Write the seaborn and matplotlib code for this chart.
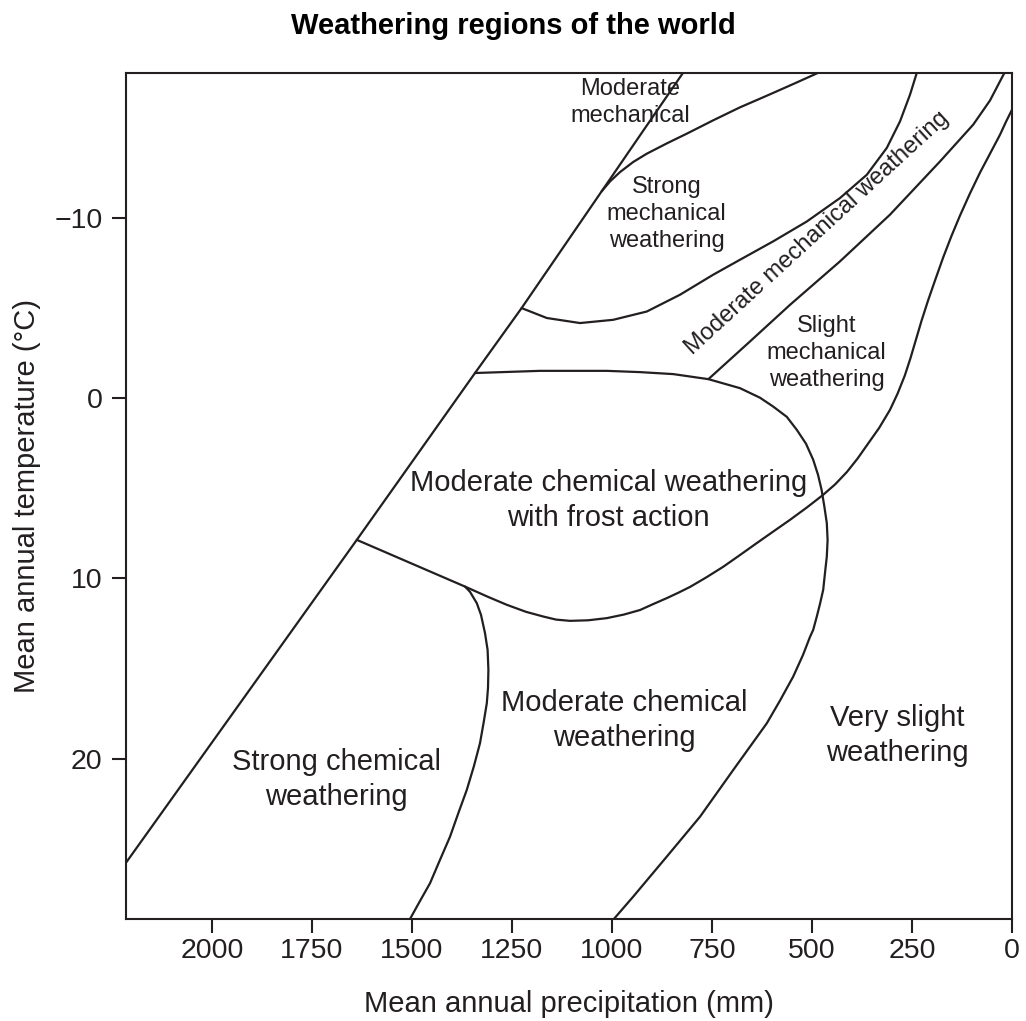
import matplotlib
matplotlib.use("Agg")
import matplotlib.pyplot as plt
import seaborn as sns
import pandas as pd

# ---------------- data: boundaries (precipitation in mm, temperature in °C) -------------
humid_limit_precip = [2215, 1638, 1342.5, 1226, 1026, 923, 820]
humid_limit_temp = [25.76, 7.86, -1.39, -4.99, -11.46, -14.79, -18.11]

strong_mech_top_precip = [1026, 1005, 980, 947, 913, 863, 813, 747, 680, 630, 597, 538, 480]
strong_mech_top_temp = [-11.46, -12.01, -12.53, -13.09, -13.55, -14.12, -14.66, -15.40,
                        -16.12, -16.60, -16.92, -17.50, -18.08]

strong_mech_bottom_precip = [1226, 1163, 1080, 997, 913, 830, 747, 680, 597, 513, 430, 363,
                             313, 280, 255, 238]
strong_mech_bottom_temp = [-4.99, -4.44, -4.16, -4.34, -4.80, -5.73, -6.84, -7.67, -8.69,
                           -9.79, -11.09, -12.38, -13.87, -15.34, -16.82, -18.03]

moderate_mech_bottom_precip = [759, 655, 555, 430, 305, 180, 97, 55, 15]
moderate_mech_bottom_temp = [-1.05, -3.14, -5.17, -7.58, -10.17, -13.12, -15.16, -16.5, -18.2]

slight_mech_frost_precip = [0, 15, 30, 55, 80, 105, 130, 152, 172, 192, 210, 226, 240, 254,
                            268, 286, 305, 332, 360, 386, 412.5, 442, 472.5, 512, 555, 597,
                            637.5, 680, 722.5, 765, 805, 835, 863, 897, 930, 970, 1013, 1060,
                            1105, 1140, 1172, 1215, 1263, 1310, 1367.5, 1638]
slight_mech_frost_temp = [-15.99, -15.32, -14.60, -13.55, -12.50, -11.35, -10.12, -8.95,
                          -7.80, -6.55, -5.40, -4.30, -3.25, -2.20, -1.25, -0.25, 0.65, 1.65,
                          2.53, 3.35, 4.09, 4.78, 5.37, 6.05, 6.75, 7.40, 8.03, 8.70, 9.36,
                          9.95, 10.47, 10.80, 11.09, 11.42, 11.75, 12.00, 12.20, 12.32, 12.35,
                          12.28, 12.11, 11.85, 11.46, 11.02, 10.45, 7.86]

frost_outer_precip = [1342.5, 1180, 1013, 930, 847, 759, 680, 630, 597, 563, 538, 515, 497,
                      485, 476, 469, 463, 461, 463, 467.5, 472, 480, 488, 497, 505, 522.5,
                      547, 580, 613, 697, 780, 863, 947, 1000]
frost_outer_temp = [-1.39, -1.51, -1.51, -1.44, -1.33, -1.05, -0.55, -0.02, 0.47, 1.04, 1.76,
                    2.53, 3.42, 4.25, 5.09, 6.03, 6.93, 7.86, 8.79, 9.69, 10.63, 11.41, 12.11,
                    12.85, 13.24, 14.24, 15.44, 16.77, 18.03, 20.62, 23.21, 25.42, 27.64, 29.0]

strong_chem_precip = [1367.5, 1355, 1338, 1327.5, 1317.5, 1311, 1309, 1310, 1313, 1321, 1330,
                      1345, 1363, 1384, 1405, 1430, 1455, 1480, 1508]
strong_chem_temp = [10.45, 10.74, 11.37, 12.02, 13.03, 13.96, 15.07, 16.07, 16.92, 18.0, 19.13,
                    20.39, 21.72, 23.0, 24.32, 25.6, 26.90, 27.88, 29.0]

# region labels
region_names = ["Moderate\nmechanical",
                "Strong\nmechanical\nweathering",
                "Moderate mechanical weathering",
                "Slight\nmechanical\nweathering",
                "Moderate chemical weathering\nwith frost action",
                "Strong chemical\nweathering",
                "Moderate chemical\nweathering",
                "Very slight\nweathering"]
region_precip = [955, 863, 486, 463, 1009, 1690, 969.5, 287.5]
region_temp = [-16.38, -10.22, -9.15, -2.50, 5.67, 21.13, 17.89, 18.72]

x_ticks = [2000, 1750, 1500, 1250, 1000, 750, 500, 250, 0]
y_ticks = [-10, 0, 10, 20]

# ---------------- styling -------------
sns.set_style("ticks")
plt.rcParams["font.family"] = ["Liberation Sans", "DejaVu Sans"]
INK = "#231f20"

W, H = 1026, 1021
fig = plt.figure(figsize=(W / 100, H / 100), dpi=100)
ax = fig.add_axes([126 / W, 1 - 919 / H, (1012 - 126) / W, (919 - 72.7) / H])

boundaries = [
    (humid_limit_precip, humid_limit_temp),
    (strong_mech_top_precip, strong_mech_top_temp),
    (strong_mech_bottom_precip, strong_mech_bottom_temp),
    (moderate_mech_bottom_precip, moderate_mech_bottom_temp),
    (slight_mech_frost_precip, slight_mech_frost_temp),
    (frost_outer_precip, frost_outer_temp),
    (strong_chem_precip, strong_chem_temp),
]
for px, ty in boundaries:
    df = pd.DataFrame({"precip": px, "temp": ty})
    sns.lineplot(data=df, x="precip", y="temp", sort=False, estimator=None,
                 color=INK, linewidth=1.6, ax=ax)
for line in ax.lines:
    line.set_solid_joinstyle("round")
    line.set_solid_capstyle("round")

small_fs, big_fs = 17, 21
sizes = [small_fs, small_fs, small_fs, small_fs, big_fs, big_fs, big_fs, big_fs]
rotations = [0, 0, 42.5, 0, 0, 0, 0, 0]
for name, px, ty, fs, rot in zip(region_names, region_precip, region_temp, sizes, rotations):
    ax.text(px, ty, name, ha="center", va="center", multialignment="center",
            fontsize=fs, color=INK, rotation=rot, rotation_mode="anchor",
            linespacing=1.3)

ax.set_xlim(2215, 0)
ax.set_ylim(28.88, -18.04)
ax.set_xticks(x_ticks)
ax.set_xticklabels([str(v) for v in x_ticks])
ax.set_yticks(y_ticks)

for s in ax.spines.values():
    s.set_visible(True)
    s.set_linewidth(1.5)
    s.set_color(INK)

ax.tick_params(axis="both", which="major", direction="out", length=10.3, width=1.5,
               color=INK, labelcolor=INK, labelsize=20.5, top=False, right=False)
ax.tick_params(axis="x", pad=3.5)
ax.tick_params(axis="y", pad=6.5)

ax.set_xlabel("Mean annual precipitation (mm)", fontsize=21, color=INK)
ax.set_ylabel("Mean annual temperature (°C)", fontsize=21, color=INK)
ax.xaxis.set_label_coords(0.5, (919 - 1011.7) / (919 - 72.7))
ax.xaxis.label.set_va("baseline")
ax.yaxis.set_label_coords((27 - 126) / (1012 - 126), 0.5)
ax.yaxis.label.set_va("center")

fig.text(0.5, 1 - 34 / H, "Weathering regions of the world", ha="center", va="baseline",
         fontsize=21, fontweight="bold", color="black")

fig.savefig("out.png", dpi=100)
